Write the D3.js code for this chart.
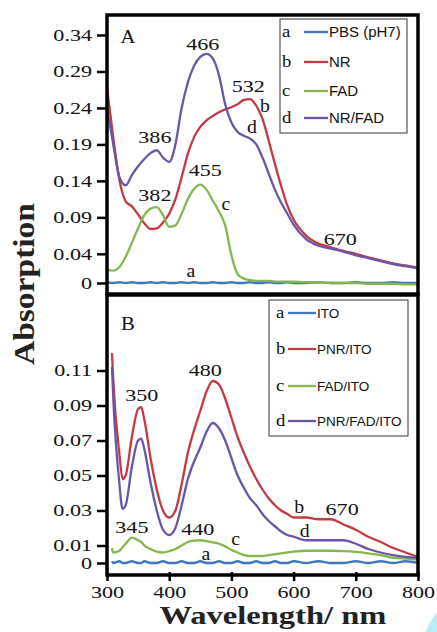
<!DOCTYPE html>
<html>
<head>
<meta charset="utf-8">
<script src="https://cdn.jsdelivr.net/npm/d3@7"></script>
<style>
  body { margin: 0; background: #fff; }
  svg { display: block; }
</style>
</head>
<body>
<div id="chart"></div>
<script>
// ---- data, panel A (solution spectra) ----
var wavelengthA = [300, 310, 320, 330, 340, 350, 360, 370, 380, 390, 400, 410, 420, 430, 440, 450, 460, 470, 480, 490,
  500, 510, 520, 530, 540, 550, 560, 570, 580, 590, 600, 620, 640, 660, 680, 700, 720, 740, 760, 780, 800];
var pbsA = [0.001, 0.0, 0.001, 0.0, 0.001, 0.0, 0.0, 0.001, 0.0, 0.001, 0.0, 0.0, 0.001, 0.0, 0.001, 0.0, 0.0, 0.001, 0.0, 0.0,
  0.001, 0.0, 0.0, 0.001, 0.0, 0.0, 0.001, 0.0, 0.0, 0.001, 0.0, 0.0, 0.001, 0.0, 0.0, 0.001, 0.0, 0.0, 0.001, 0.0, 0.0];
var nrA = [0.267, 0.2, 0.141, 0.112, 0.105, 0.094, 0.082, 0.074, 0.075, 0.083, 0.095, 0.115, 0.145, 0.177, 0.2, 0.214, 0.223, 0.229, 0.234, 0.238,
  0.241, 0.245, 0.251, 0.252, 0.243, 0.225, 0.195, 0.163, 0.133, 0.106, 0.087, 0.065, 0.054, 0.049, 0.044, 0.04, 0.035, 0.031, 0.027, 0.024, 0.021];
var fadA = [0.018, 0.017, 0.022, 0.036, 0.055, 0.075, 0.093, 0.102, 0.104, 0.093, 0.077, 0.079, 0.095, 0.115, 0.129, 0.135, 0.128, 0.113, 0.098, 0.079,
  0.038, 0.012, 0.006, 0.004, 0.003, 0.003, 0.003, 0.002, 0.002, 0.002, 0.002, 0.001, 0.001, 0.0, 0.0, 0.0, -0.001, -0.001, -0.001, -0.002, -0.002];
var nrFadA = [0.24, 0.19, 0.145, 0.134, 0.148, 0.16, 0.17, 0.178, 0.182, 0.172, 0.166, 0.19, 0.24, 0.275, 0.298, 0.31, 0.314, 0.308, 0.285, 0.245,
  0.22, 0.207, 0.202, 0.198, 0.19, 0.172, 0.15, 0.128, 0.11, 0.095, 0.08, 0.06, 0.051, 0.047, 0.043, 0.038, 0.034, 0.03, 0.026, 0.023, 0.02];

// ---- data, panel B (films on ITO) ----
var wavelengthB = [308, 310, 320, 325, 330, 340, 350, 355, 360, 370, 380, 390, 400, 410, 420, 430, 440, 450, 460, 470, 480, 490,
  500, 510, 520, 530, 540, 550, 560, 570, 580, 590, 600, 620, 640, 660, 680, 700, 720, 740, 760, 780, 800];
var itoB = [0.001, 0.0, 0.001, 0.0, 0.0, 0.001, 0.0, 0.0, 0.001, 0.0, 0.0, 0.001, 0.0, 0.0, 0.001, 0.0, 0.0, 0.001, 0.0, 0.0, 0.001, 0.0,
  0.0, 0.001, 0.0, 0.0, 0.001, 0.0, 0.0, 0.001, 0.0, 0.0, 0.001, 0.0, 0.001, 0.0, 0.0, 0.001, 0.0, 0.001, 0.0, 0.001, 0.0];
var pnrB = [0.12, 0.105, 0.062, 0.048, 0.05, 0.072, 0.088, 0.089, 0.082, 0.06, 0.042, 0.03, 0.026, 0.03, 0.045, 0.063, 0.076, 0.087, 0.098, 0.104, 0.102, 0.094,
  0.083, 0.072, 0.063, 0.055, 0.048, 0.042, 0.037, 0.033, 0.03, 0.028, 0.026, 0.026, 0.025, 0.025, 0.022, 0.019, 0.015, 0.012, 0.0086, 0.006, 0.0034];
var fadB = [0.0086, 0.006, 0.007, 0.009, 0.011, 0.0145, 0.013, 0.012, 0.01, 0.008, 0.0065, 0.006, 0.0068, 0.008, 0.01, 0.012, 0.0128, 0.013, 0.0125, 0.0118, 0.011, 0.0095,
  0.0075, 0.006, 0.0045, 0.004, 0.004, 0.004, 0.0045, 0.005, 0.0055, 0.006, 0.0065, 0.007, 0.007, 0.007, 0.0068, 0.0063, 0.0055, 0.0045, 0.003, 0.0025, 0.002];
var pnrFadB = [0.112, 0.095, 0.045, 0.031, 0.033, 0.055, 0.07, 0.071, 0.065, 0.046, 0.03, 0.019, 0.016, 0.02, 0.033, 0.048, 0.058, 0.066, 0.075, 0.08, 0.077, 0.07,
  0.06, 0.05, 0.043, 0.037, 0.033, 0.028, 0.024, 0.021, 0.018, 0.016, 0.015, 0.013, 0.013, 0.013, 0.013, 0.011, 0.008, 0.006, 0.0045, 0.0035, 0.003];

// ---- labels and ticks ----
var letters = ["a", "b", "c", "d"];
var legendA = ["PBS (pH7)", "NR", "FAD", "NR/FAD"];
var legendB = ["ITO", "PNR/ITO", "FAD/ITO", "PNR/FAD/ITO"];
var ticksA = [0, 0.04, 0.09, 0.14, 0.19, 0.24, 0.29, 0.34];
var ticksB = [0, 0.01, 0.03, 0.05, 0.07, 0.09, 0.11];
var ticksX = [300, 400, 500, 600, 700, 800];

// peak / curve annotations, in data units
var notesA = [
  {t: "466", w: 454, v: 0.319}, {t: "386", w: 377, v: 0.192}, {t: "382", w: 377, v: 0.112},
  {t: "455", w: 458, v: 0.147}, {t: "532", w: 527, v: 0.262}, {t: "670", w: 675, v: 0.052},
  {t: "a", w: 435, v: 0.008}, {t: "b", w: 554, v: 0.234}, {t: "c", w: 491, v: 0.1}, {t: "d", w: 533, v: 0.205}
];
var notesB = [
  {t: "350", w: 356, v: 0.0926}, {t: "480", w: 458, v: 0.107}, {t: "345", w: 340, v: 0.017},
  {t: "440", w: 446, v: 0.016}, {t: "670", w: 678, v: 0.0274},
  {t: "a", w: 459, v: 0.0017}, {t: "b", w: 609, v: 0.0286}, {t: "c", w: 507, v: 0.0103}, {t: "d", w: 618, v: 0.0149}
];

var colors = ["#3b78bd", "#c23a42", "#84b84c", "#6a55a8"];
var serif = "'Liberation Serif', 'Times New Roman', serif";
var sans = "'Liberation Sans', Arial, sans-serif";

var svg = d3.select("#chart").append("svg")
  .attr("width", 437)
  .attr("height", 632);

// stray cyan mark in the corner of the scan
svg.append("ellipse")
  .attr("cx", 470).attr("cy", 662)
  .attr("rx", 50).attr("ry", 66)
  .attr("fill", "#b9eff4");

var x = d3.scaleLinear().domain([300, 800]).range([107, 418]);
var yA = d3.scaleLinear().domain([0, 0.34]).range([283, 35]);
var yB = d3.scaleLinear().domain([0, 0.11]).range([563, 370.5]);

function serifText(g, px, py, txt, size, anchor, sx) {
  return g.append("text")
    .attr("transform", "translate(" + px + "," + py + ") scale(" + (sx || 1.3) + ",1)")
    .attr("text-anchor", anchor || "middle")
    .style("font-family", serif)
    .style("font-size", size + "px")
    .attr("fill", "#111")
    .text(txt);
}

function drawPanel(y, wl, series, ticks, notes, legend, frame, leg, tag) {
  var g = svg.append("g");

  // curves
  var line = d3.line()
    .x(function(d) { return x(d[0]); })
    .y(function(d) { return y(d[1]); })
    .curve(d3.curveMonotoneX);
  series.forEach(function(vals, i) {
    g.append("path")
      .datum(wl.map(function(w, k) { return [w, vals[k]]; }))
      .attr("d", line)
      .attr("fill", "none")
      .attr("stroke", colors[i])
      .attr("stroke-width", 2.3);
  });

  // y axis
  var ax = g.append("g")
    .attr("transform", "translate(107,0)")
    .call(d3.axisLeft(y).tickValues(ticks).tickSize(10)
      .tickFormat(function(d) { return d === 0 ? "0" : d.toFixed(2); }));
  ax.select(".domain").remove();
  ax.selectAll("line").attr("stroke", "#000").attr("stroke-width", 2.5);
  ax.selectAll("text")
    .attr("x", 0)
    .attr("transform", "translate(-15,0) scale(1.3,1)")
    .style("font-family", serif)
    .style("font-size", "17px")
    .attr("fill", "#111");

  // frame
  g.append("rect")
    .attr("x", 107).attr("y", frame[0])
    .attr("width", 311).attr("height", frame[1] - frame[0])
    .attr("fill", "none")
    .attr("stroke", "#000")
    .attr("stroke-width", 3.5);

  // panel letter and annotations
  serifText(g, 128, frame[0] + (tag === "A" ? 28 : 35), tag, 18, "middle", 1.15);
  notes.forEach(function(n) {
    var isLetter = n.t.length === 1;
    serifText(g, x(n.w), y(n.v), n.t, isLetter ? 18 : 17, "middle", isLetter ? 1.1 : 1.3);
  });

  // legend
  g.append("rect")
    .attr("x", leg.x).attr("y", leg.y)
    .attr("width", leg.w).attr("height", leg.h)
    .attr("fill", "#fff")
    .attr("stroke", "#555")
    .attr("stroke-width", 1.2);
  legend.forEach(function(name, i) {
    var ry = leg.rows[i];
    serifText(g, leg.lx, ry + 5, letters[i], 17, "start", 1.1);
    g.append("line")
      .attr("x1", leg.l1).attr("x2", leg.l2)
      .attr("y1", ry).attr("y2", ry)
      .attr("stroke", colors[i])
      .attr("stroke-width", 2.3);
    g.append("text")
      .attr("x", leg.l2 + 1).attr("y", ry + leg.fs * 0.36)
      .style("font-family", sans)
      .style("font-size", leg.fs + "px")
      .attr("fill", "#111")
      .text(name);
  });
  return g;
}

drawPanel(yA, wavelengthA, [pbsA, nrA, fadA, nrFadA], ticksA, notesA, legendA, [15, 294],
  {x: 280, y: 19, w: 127, h: 114, rows: [32, 62, 91, 118], lx: 282, l1: 304, l2: 328, fs: 15}, "A");

var gB = drawPanel(yB, wavelengthB, [itoB, pnrB, fadB, pnrFadB], ticksB, notesB, legendB, [295, 575],
  {x: 269, y: 300, w: 139, h: 136, rows: [313, 349, 386, 421], lx: 276, l1: 288, l2: 316, fs: 13.5}, "B");

// x axis on the bottom panel
var axX = gB.append("g")
  .attr("transform", "translate(0,575)")
  .call(d3.axisBottom(x).tickValues(ticksX).tickSize(6).tickPadding(5));
axX.select(".domain").remove();
axX.selectAll("line").attr("stroke", "#000").attr("stroke-width", 2.5).attr("y1", -3);
axX.selectAll("text")
  .attr("transform", "scale(1.3,1)")
  .style("font-family", serif)
  .style("font-size", "17px")
  .attr("fill", "#111");

// axis titles
svg.append("text")
  .attr("transform", "translate(34,284) rotate(-90)")
  .attr("text-anchor", "middle")
  .attr("textLength", 162)
  .attr("lengthAdjust", "spacingAndGlyphs")
  .style("font-family", serif)
  .style("font-size", "30px")
  .style("font-weight", "bold")
  .attr("fill", "#222")
  .text("Absorption");

svg.append("text")
  .attr("x", 273).attr("y", 624)
  .attr("text-anchor", "middle")
  .attr("textLength", 227)
  .attr("lengthAdjust", "spacingAndGlyphs")
  .style("font-family", serif)
  .style("font-size", "26px")
  .style("font-weight", "bold")
  .attr("fill", "#222")
  .text("Wavelength/ nm");
</script>
</body>
</html>
